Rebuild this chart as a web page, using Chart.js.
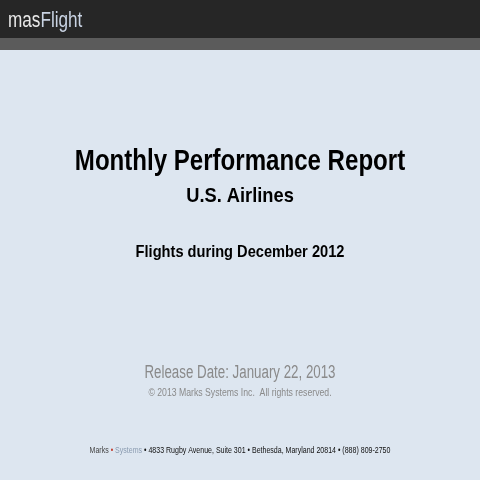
<!DOCTYPE html>
<html>
<head>
<meta charset="utf-8">
<script src="https://cdn.jsdelivr.net/npm/chart.js@4"></script>
<style>
  html, body { margin: 0; padding: 0; background: #dde6f0; }
  #wrap { width: 480px; height: 480px; }
</style>
</head>
<body>
<div id="wrap"><canvas id="slide"></canvas></div>
<script>
// Slide texts
const headings = ['Monthly Performance Report', 'U.S. Airlines', 'Flights during December 2012'];
const releaseLines = ['Release Date: January 22, 2013', '\u00A9 2013 Marks Systems Inc.  All rights reserved.'];
const footerParts = ['Marks', ' \u2022 ', 'Systems', ' \u2022 4833 Rugby Avenue, Suite 301 \u2022 Bethesda, Maryland 20814 \u2022 (888) 809-2750'];
const logoParts = ['mas', 'Flight'];

const sans = '"Liberation Sans", Arial, sans-serif';

// condensed text: draw centred, squeezed horizontally by sx
function narrowText(ctx, text, x, y, sx) {
    ctx.save();
    ctx.translate(x, y);
    ctx.scale(sx, 1);
    ctx.fillText(text, 0, 0);
    ctx.restore();
}

const slidePlugin = {
    id: 'slide',
    beforeDraw(chart) {
        const ctx = chart.ctx;
        const w = chart.width;
        ctx.save();
        ctx.fillStyle = '#dde6f0';
        ctx.fillRect(0, 0, w, chart.height);
        ctx.fillStyle = '#262626';
        ctx.fillRect(0, 0, w, 38);
        ctx.fillStyle = '#5b5b5b';
        ctx.fillRect(0, 38, w, 12);

        // logo
        ctx.textBaseline = 'alphabetic';
        ctx.textAlign = 'left';
        ctx.font = '22px ' + sans;
        ctx.save();
        ctx.translate(8, 27);
        ctx.scale(0.78, 1);
        ctx.fillStyle = '#e8e8e8';
        ctx.fillText(logoParts[0], 0, 0);
        const lw = ctx.measureText(logoParts[0]).width;
        ctx.fillStyle = '#c9d3e3';
        ctx.fillText(logoParts[1], lw, 0);
        ctx.restore();

        ctx.textAlign = 'center';
        ctx.textBaseline = 'middle';
        ctx.fillStyle = '#000';
        ctx.font = 'bold 29px ' + sans;
        narrowText(ctx, headings[0], w / 2, 162, 0.83);
        ctx.font = 'bold 21px ' + sans;
        narrowText(ctx, headings[1], w / 2, 196, 0.87);
        ctx.font = 'bold 17px ' + sans;
        narrowText(ctx, headings[2], w / 2, 252, 0.86);

        ctx.fillStyle = '#8a8a8a';
        ctx.font = '18px ' + sans;
        narrowText(ctx, releaseLines[0], w / 2, 373, 0.74);
        ctx.font = '11px ' + sans;
        narrowText(ctx, releaseLines[1], w / 2, 393, 0.79);

        // footer
        ctx.textAlign = 'left';
        ctx.font = '9.5px ' + sans;
        const sx = 0.74;
        const colors = ['#444', '#c0392b', '#8a9bb0', '#111'];
        const total = footerParts.reduce((s, p) => s + ctx.measureText(p).width, 0);
        ctx.save();
        ctx.translate((w - total * sx) / 2, 450);
        ctx.scale(sx, 1);
        let x = 0;
        footerParts.forEach((p, i) => {
            ctx.fillStyle = colors[i];
            ctx.fillText(p, x, 0);
            x += ctx.measureText(p).width;
        });
        ctx.restore();
        ctx.restore();
    }
};

new Chart(document.getElementById('slide'), {
    type: 'bar',
    data: { labels: [], datasets: [] },
    options: {
        responsive: true,
        maintainAspectRatio: false,
        animation: false,
        plugins: { legend: { display: false }, tooltip: { enabled: false } },
        scales: { x: { display: false }, y: { display: false } }
    },
    plugins: [slidePlugin]
});
</script>
</body>
</html>
